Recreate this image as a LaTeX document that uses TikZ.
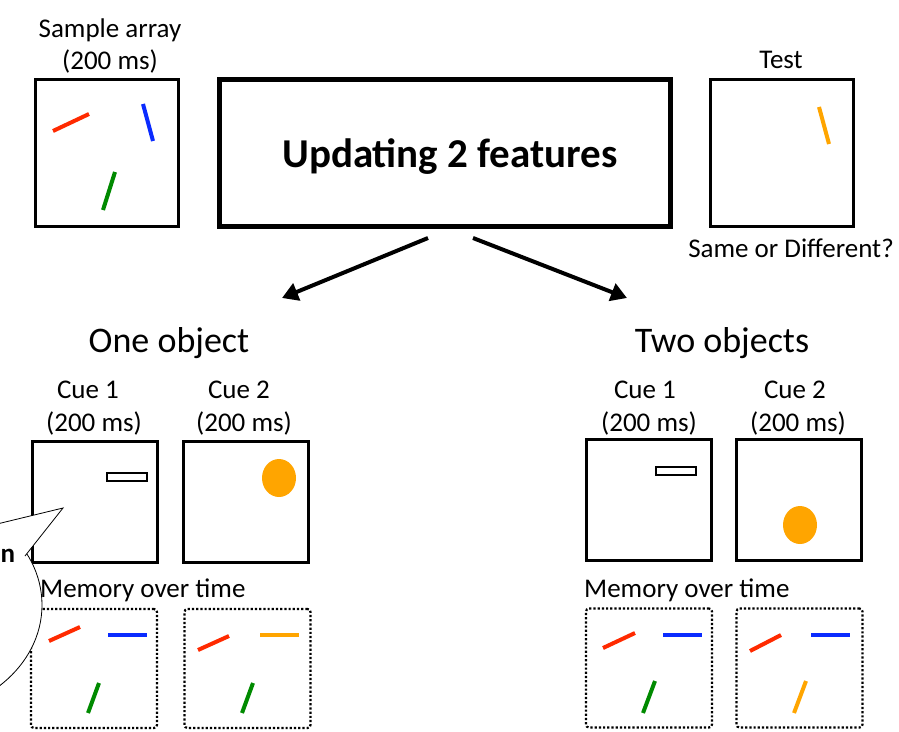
\documentclass[tikz,border=0pt]{standalone}
\usepackage{fontspec}
\setmainfont{Carlito}
\usetikzlibrary{arrows.meta}
\begin{document}
\begin{tikzpicture}[x=1pt,y=-1pt,
  frame/.style={draw=black, line width=3pt, fill=white, inner sep=0pt},
  cuebox/.style={frame, minimum width=125pt, minimum height=121pt},
  membox/.style={draw=black, line width=2.2pt, dash pattern={on 2.2pt off 2pt},
    rounded corners=3pt, inner sep=0pt, minimum width=126pt, minimum height=119pt},
  lbl/.style={inner sep=0pt, anchor=base, font=\fontsize{27}{30}\selectfont},
  head/.style={inner sep=0pt, anchor=base, font=\fontsize{36}{40}\selectfont},
  bar/.style={line width=4pt},
  flow/.style={line width=4pt, -{Triangle[length=16pt,width=18pt]}}
]
\useasboundingbox (0,0) rectangle (899,731);
\definecolor{cred}{HTML}{FF2A00}
\definecolor{cblue}{HTML}{0A2BFF}
\definecolor{cgreen}{HTML}{008A00}
\definecolor{corange}{HTML}{FFA500}

% ---------- top row ----------
\node[frame, minimum width=143pt, minimum height=147pt] (sample) at (107,153) {};
\node[lbl] (samplelbl) at (110,37) {Sample array};
\node[lbl] (sampletime) at (110,69) {(200 ms)};
\draw[bar, cred]   (53,131) -- (89,114);
\draw[bar, cblue]  (143,104) -- (153,141);
\draw[bar, cgreen] (103,210) -- (115,172);

\node[frame, line width=5pt, minimum width=451pt, minimum height=147pt] (upd) at (445,153) {};
\node[inner sep=0pt, anchor=base, font=\fontsize{41}{45}\selectfont\bfseries] (updlbl) at (450,167) {Updating 2 features};

\node[frame, minimum width=143pt, minimum height=147pt] (test) at (782,153) {};
\node[lbl] (testlbl) at (781,68) {Test};
\node[lbl] (question) at (791,257) {Same or Different?};
\draw[bar, corange] (819,107) -- (829,144);

% ---------- branch arrows ----------
\coordinate (updL) at (428,238);
\coordinate (updR) at (473,238);
\node[head] (one) at (169,352) {One object};
\node[head] (two) at (722,352) {Two objects};
\coordinate (oneTip) at (282,298);
\coordinate (twoTip) at (627,298);
\draw[flow] (updL) -- (oneTip);
\draw[flow] (updR) -- (twoTip);

% ---------- one object ----------
\node[lbl] (l1a) at (88,398) {Cue 1};
\node[lbl] (l1b) at (94,431) {(200 ms)};
\node[lbl] (l2a) at (239,398) {Cue 2};
\node[lbl] (l2b) at (244,431) {(200 ms)};
\node[cuebox] (lcue1) at (95,502) {};
\node[cuebox] (lcue2) at (246,502) {};
\draw[line width=1.5pt] (107,473) rectangle (147,481);
\fill[corange] (279,478) ellipse [x radius=17, y radius=19];

\node[lbl, anchor=base west] (lmem) at (40,597) {Memory over time};
\node[membox] (lmem1) at (94,668.5) {};
\node[membox] (lmem2) at (247.5,668.5) {};
\draw[bar, cred]   (49,641) -- (80,627);
\draw[bar, cblue]  (108,635) -- (147,635);
\draw[bar, cgreen] (88,713) -- (99,683);
\draw[bar, cred]    (198,650) -- (229,636);
\draw[bar, corange] (260,635) -- (299,635);
\draw[bar, cgreen]  (242,713) -- (253,683);

% ---------- two objects ----------
\node[lbl] (r1a) at (645,398) {Cue 1};
\node[lbl] (r1b) at (649,431) {(200 ms)};
\node[lbl] (r2a) at (795,398) {Cue 2};
\node[lbl] (r2b) at (798,431) {(200 ms)};
\node[cuebox] (rcue1) at (648.5,500) {};
\node[cuebox] (rcue2) at (799,500) {};
\draw[line width=1.5pt] (656,467) rectangle (696,475);
\fill[corange] (800,525) ellipse [x radius=17, y radius=19];

\node[lbl, anchor=base west] (rmem) at (584,597) {Memory over time};
\node[membox] (rmem1) at (649,668) {};
\node[membox] (rmem2) at (799.5,668) {};
\draw[bar, cred]   (603,648) -- (635,633);
\draw[bar, cblue]  (663,635) -- (702,635);
\draw[bar, cgreen] (643,713) -- (655,681);
\draw[bar, cred]    (750,651) -- (781,635);
\draw[bar, cblue]   (811,635) -- (850,635);
\draw[bar, corange] (794,713) -- (806,681);

% ---------- speech bubble at the left edge ----------
\draw[line width=0.8pt, fill=white] (-90,605) ellipse [x radius=132, y radius=110];
\coordinate (bubTip) at (63,508);
\fill[white] (-3,524) -- (bubTip) -- (25,556) -- (10,556) -- cycle;
\draw[line width=0.8pt] (-3,524) -- (bubTip) -- (25,556);
\node[inner sep=0pt, anchor=base west, font=\fontsize{27}{30}\selectfont\bfseries] (bubtxt) at (0.5,562) {n};
\end{tikzpicture}
\end{document}
